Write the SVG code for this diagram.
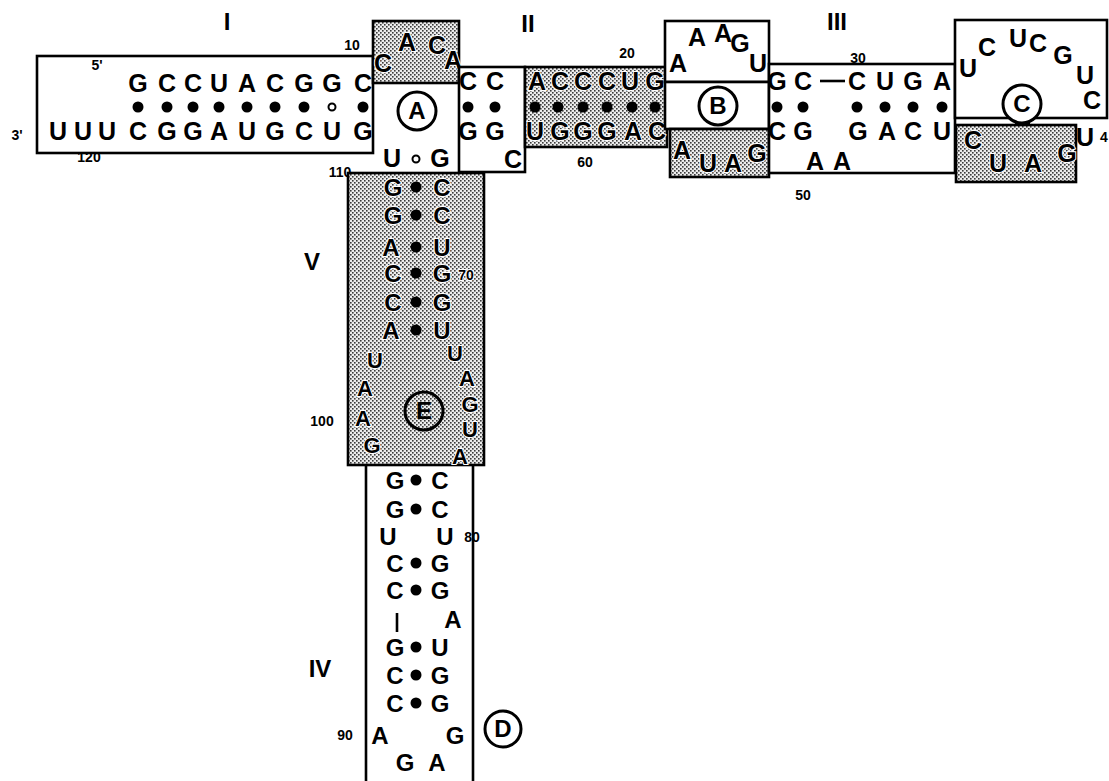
<svg xmlns="http://www.w3.org/2000/svg" width="1109" height="781" viewBox="0 0 1109 781">
<defs>
<pattern id="stip" width="4" height="4" patternUnits="userSpaceOnUse">
<rect width="4" height="4" fill="#ececec"/>
<rect x="0" y="0" width="1.6" height="1.6" fill="#3a3a3a"/>
<rect x="2" y="2" width="1.6" height="1.6" fill="#3a3a3a"/>
</pattern>
</defs>
<style>
.box{fill:#fff;stroke:#000;stroke-width:2.6}
.sh{fill:url(#stip);stroke:#000;stroke-width:2.6}
.ln{stroke:#000;stroke-width:2.6;fill:none}
text{font-family:"Liberation Sans",Arial,sans-serif;font-weight:bold;fill:#000;text-anchor:middle}
.n{font-size:25px}
.s{font-size:14px}
.r{font-size:24px}
.t{font-size:22px}
.hl{stroke:#fff;stroke-width:2;paint-order:stroke}
.dot{fill:#000}
.od{fill:#fff;stroke:#000;stroke-width:2}
.circ{fill:#fff;stroke:#000;stroke-width:3}
</style>
<g id="labels">
<text class="r" x="227" y="30">I</text>
<text class="r" x="528" y="32">II</text>
<text class="r" x="837" y="30">III</text>
<text class="r" x="312" y="270">V</text>
<text class="r" x="320" y="677">IV</text>
</g>
<g id="stem-I">
<rect class="box" x="37" y="56" width="336" height="97"/>
<text class="s" x="352" y="50">10</text>
<text class="s" x="97" y="70">5'</text>
<text class="s" x="17" y="140">3'</text>
<text class="s" x="89" y="162">120</text>
<text class="s" x="340" y="177">110</text>
<g class="n">
<text x="138" y="92">G</text><text x="167" y="92">C</text><text x="193" y="92">C</text><text x="219" y="92">U</text><text x="247" y="92">A</text><text x="275" y="92">C</text><text x="304" y="92">G</text><text x="332" y="92">G</text><text x="363" y="92">C</text>
<text x="58" y="140">U</text><text x="83" y="140">U</text><text x="107" y="140">U</text><text x="138" y="140">C</text><text x="167" y="140">G</text><text x="193" y="140">G</text><text x="219" y="140">A</text><text x="247" y="140">U</text><text x="275" y="140">G</text><text x="304" y="140">C</text><text x="332" y="140">U</text><text x="363" y="140">G</text>
</g>
<circle class="dot" cx="138" cy="107" r="5.5"/><circle class="dot" cx="167" cy="107" r="5.5"/><circle class="dot" cx="193" cy="107" r="5.5"/><circle class="dot" cx="219" cy="107" r="5.5"/><circle class="dot" cx="247" cy="107" r="5.5"/><circle class="dot" cx="275" cy="107" r="5.5"/><circle class="dot" cx="304" cy="107" r="5.5"/><circle class="od" cx="332" cy="107" r="3.5"/><circle class="dot" cx="363" cy="107" r="5.5"/>
</g>
<g id="loop-A">
<rect class="sh" x="373" y="21" width="86" height="62"/>
<g class="n hl">
<text x="383" y="72">C</text><text x="407" y="51">A</text><text x="437" y="54">C</text><text x="453" y="69">A</text>
</g>
<circle class="circ" cx="417" cy="111" r="19"/>
<text class="r" x="417" y="119">A</text>
<text class="n" x="392" y="167">U</text>
<circle class="od" cx="416" cy="159" r="3.5"/>
<text class="n" x="440" y="167">G</text>
</g>
<g id="stem-II-left">
<rect class="box" x="459" y="67" width="66" height="105"/>
<g class="n">
<text x="468" y="90">C</text><text x="495" y="90">C</text>
<text x="468" y="140">G</text><text x="495" y="140">G</text>
<text x="513" y="168">C</text>
</g>
<circle class="dot" cx="468" cy="107" r="5.5"/><circle class="dot" cx="495" cy="107" r="5.5"/>
</g>
<g id="stem-II">
<rect class="sh" x="525" y="67" width="142" height="80"/>
<text class="s" x="627" y="58">20</text>
<text class="s" x="585" y="167">60</text>
<g class="n hl">
<text x="537" y="90">A</text><text x="560" y="90">C</text><text x="583" y="90">C</text><text x="607" y="90">C</text><text x="630" y="90">U</text><text x="655" y="90">G</text>
<text x="535" y="140">U</text><text x="560" y="140">G</text><text x="583" y="140">G</text><text x="607" y="140">G</text><text x="633" y="140">A</text><text x="657" y="140">C</text>
</g>
<circle class="dot" cx="535" cy="107" r="5.5"/><circle class="dot" cx="558" cy="107" r="5.5"/><circle class="dot" cx="583" cy="107" r="5.5"/><circle class="dot" cx="607" cy="107" r="5.5"/><circle class="dot" cx="632" cy="107" r="5.5"/><circle class="dot" cx="655" cy="107" r="5.5"/>
</g>
<g id="loop-B">
<rect class="box" x="665" y="21" width="104" height="61"/>
<rect class="box" x="665" y="82" width="104" height="47"/>
<rect class="sh" x="670" y="129" width="99" height="48"/>
<g class="n">
<text x="678" y="72">A</text><text x="697" y="46">A</text><text x="723" y="42">A</text><text x="740" y="52">G</text><text x="758" y="72">U</text>
</g>
<circle class="circ" cx="718" cy="106" r="19"/>
<text class="r" x="718" y="114">B</text>
<g class="n hl">
<text x="682" y="159">A</text><text x="708" y="172">U</text><text x="733" y="172">A</text><text x="757" y="162">G</text>
</g>
</g>
<g id="stem-III">
<rect class="box" x="769" y="64" width="186" height="109"/>
<text class="s" x="858" y="63">30</text>
<text class="s" x="803" y="200">50</text>
<line class="ln" x1="820" y1="81" x2="845" y2="81"/>
<g class="n">
<text x="777" y="90">G</text><text x="803" y="90">C</text><text x="857" y="90">C</text><text x="885" y="90">U</text><text x="913" y="90">G</text><text x="942" y="90">A</text>
<text x="777" y="140">C</text><text x="803" y="140">G</text><text x="858" y="140">G</text><text x="887" y="140">A</text><text x="913" y="140">C</text><text x="942" y="140">U</text>
<text x="815" y="170">A</text><text x="842" y="170">A</text>
</g>
<circle class="dot" cx="777" cy="107" r="5.5"/><circle class="dot" cx="803" cy="107" r="5.5"/><circle class="dot" cx="857" cy="107" r="5.5"/><circle class="dot" cx="885" cy="107" r="5.5"/><circle class="dot" cx="913" cy="107" r="5.5"/><circle class="dot" cx="942" cy="107" r="5.5"/>
</g>
<g id="loop-C">
<rect class="box" x="955" y="20" width="152" height="98"/>
<rect class="sh" x="956" y="125" width="120" height="57"/>
<g class="n">
<text x="968" y="77">U</text><text x="987" y="56">C</text><text x="1018" y="47">U</text><text x="1038" y="52">C</text><text x="1063" y="64">G</text><text x="1085" y="84">U</text><text x="1092" y="109">C</text>
<text x="1085" y="146">U</text>
</g>
<text class="s" x="1104" y="142">4</text>
<rect x="1015" y="116" width="15" height="9" fill="#000"/>
<circle class="circ" cx="1022" cy="104" r="19"/>
<text class="r" x="1022" y="112">C</text>
<g class="n hl">
<text x="973" y="149">C</text><text x="998" y="172">U</text><text x="1033" y="172">A</text><text x="1067" y="162">G</text>
</g>
</g>
<g id="stem-V">
<rect class="sh" x="348" y="173" width="136" height="292"/>
<g class="r hl">
<text x="393" y="196">G</text><text x="442" y="196">C</text>
<text x="393" y="224">G</text><text x="442" y="224">C</text>
<text x="391" y="256">A</text><text x="442" y="256">U</text>
<text x="393" y="282">C</text><text x="442" y="282">G</text>
<text x="393" y="311">C</text><text x="442" y="311">G</text>
<text x="391" y="339">A</text><text x="442" y="339">U</text>
</g>
<g class="t hl">
<text x="375" y="368">U</text><text x="455" y="361">U</text>
<text x="365" y="396">A</text><text x="467" y="386">A</text>
<text x="363" y="426">A</text><text x="470" y="412">G</text>
<text x="372" y="453">G</text><text x="470" y="437">U</text>
<text x="460" y="464">A</text>
</g>
<text class="s hl" x="466" y="280">70</text>
<text class="s" x="322" y="426">100</text>
<circle class="dot" cx="416" cy="187" r="5.5"/><circle class="dot" cx="416" cy="215" r="5.5"/><circle class="dot" cx="416" cy="247" r="5.5"/><circle class="dot" cx="416" cy="273" r="5.5"/><circle class="dot" cx="416" cy="302" r="5.5"/><circle class="dot" cx="416" cy="330" r="5.5"/>
<circle cx="424" cy="411" r="19" fill="none" stroke="#000" stroke-width="3"/>
<text class="r" x="424" y="419">E</text>
</g>
<g id="stem-IV">
<line class="ln" x1="366" y1="465" x2="366" y2="781"/>
<line class="ln" x1="473" y1="465" x2="473" y2="781"/>
<g class="r">
<text x="395" y="489">G</text><text x="440" y="489">C</text>
<text x="395" y="518">G</text><text x="440" y="518">C</text>
<text x="388" y="545">U</text><text x="445" y="545">U</text>
<text x="395" y="572">C</text><text x="440" y="572">G</text>
<text x="395" y="599">C</text><text x="440" y="599">G</text>
<text x="453" y="628">A</text>
<text x="395" y="656">G</text><text x="440" y="656">U</text>
<text x="395" y="684">C</text><text x="440" y="684">G</text>
<text x="395" y="712">C</text><text x="440" y="712">G</text>
<text x="380" y="744">A</text><text x="455" y="744">G</text>
<text x="405" y="771">G</text><text x="437" y="771">A</text>
</g>
<line class="ln" x1="397" y1="613" x2="397" y2="632" stroke-width="3"/>
<text class="s" x="472" y="542">80</text>
<text class="s" x="345" y="740">90</text>
<circle class="dot" cx="416" cy="480" r="5.5"/><circle class="dot" cx="416" cy="509" r="5.5"/><circle class="dot" cx="416" cy="563" r="5.5"/><circle class="dot" cx="416" cy="590" r="5.5"/><circle class="dot" cx="416" cy="647" r="5.5"/><circle class="dot" cx="416" cy="675" r="5.5"/><circle class="dot" cx="416" cy="703" r="5.5"/>
<circle class="circ" cx="503" cy="729" r="18"/>
<text class="r" x="503" y="737">D</text>
</g>
<g id="connectors"/>
</svg>
